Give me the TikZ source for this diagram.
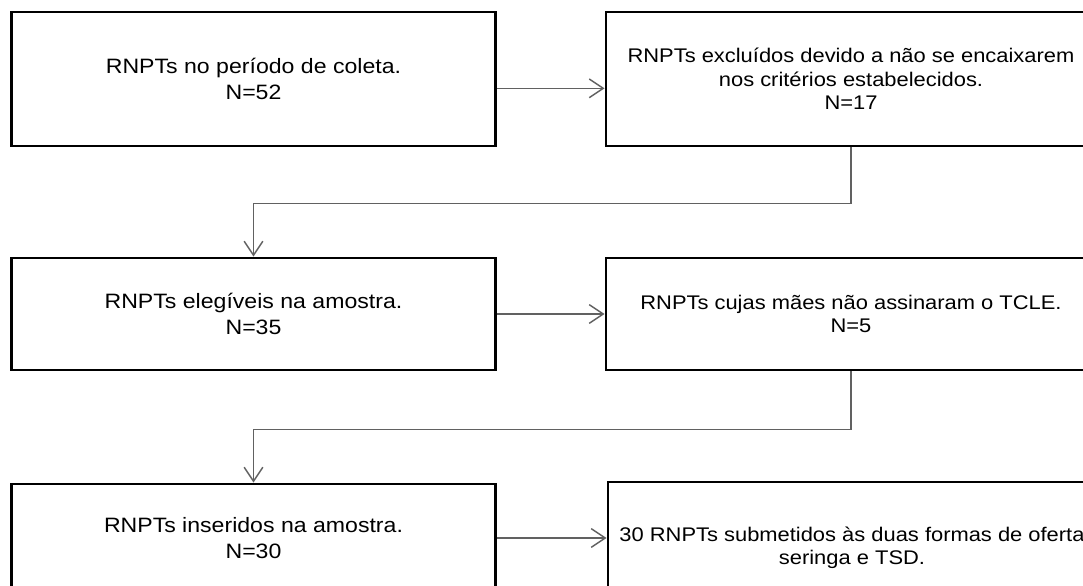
\documentclass[tikz,border=0pt]{standalone}
\usepackage{fontspec}
\setmainfont{Liberation Sans}[FakeStretch=1.11]
\usetikzlibrary{arrows.meta}
\begin{document}
\begin{tikzpicture}[x=0.75pt,y=-0.75pt,
  box/.style={draw=black, line width=2.2pt, align=center, inner sep=0pt,
    font=\fontsize{14.8}{17.5}\selectfont, text=black},
  leftbox/.style={box, minimum width=484*0.75pt,
    font=\fontsize{15.6}{19.5}\selectfont},
  rightbox/.style={box, minimum width=490*0.75pt},
  conn/.style={draw=black!62, line width=1.1pt,
    -{Straight Barb[length=10.5pt,width=14pt]}}]
\useasboundingbox (0,0) rectangle (1083,586);
\clip (0,0) rectangle (1083,586);
\node[leftbox, minimum height=134*0.75pt] (b1) at (253.5,79)
  {RNPTs no período de coleta.\\N=52};
\node[rightbox, minimum height=134*0.75pt] (b2) at (851,79)
  {RNPTs excluídos devido a não se encaixarem\\nos critérios estabelecidos.\\N=17};
\node[leftbox, minimum height=112*0.75pt] (b3) at (253.5,314)
  {RNPTs elegíveis na amostra.\\N=35};
\node[rightbox, minimum height=112*0.75pt] (b4) at (851,314)
  {RNPTs cujas mães não assinaram o TCLE.\\N=5};
\node[leftbox, minimum height=108*0.75pt] (b5) at (253.5,538)
  {RNPTs inseridos na amostra.\\N=30};
\node[rightbox, minimum width=488*0.75pt, minimum height=132*0.75pt] (b6) at (852,548)
  {30 RNPTs submetidos às duas formas de oferta\\seringa e TSD.};
\draw[conn] ([yshift=-7pt]b1.east) -- ([yshift=-7pt]b1.east -| b2.west);
\draw[conn] (b3.east) -- (b3.east -| b4.west);
\draw[conn] (b5.east) -- (b5.east -| b6.west);
\draw[conn] (b2.south) -- ++(0,56) -| (b3.north);
\draw[conn] (b4.south) -- ++(0,58) -| (b5.north);
\end{tikzpicture}
\end{document}
